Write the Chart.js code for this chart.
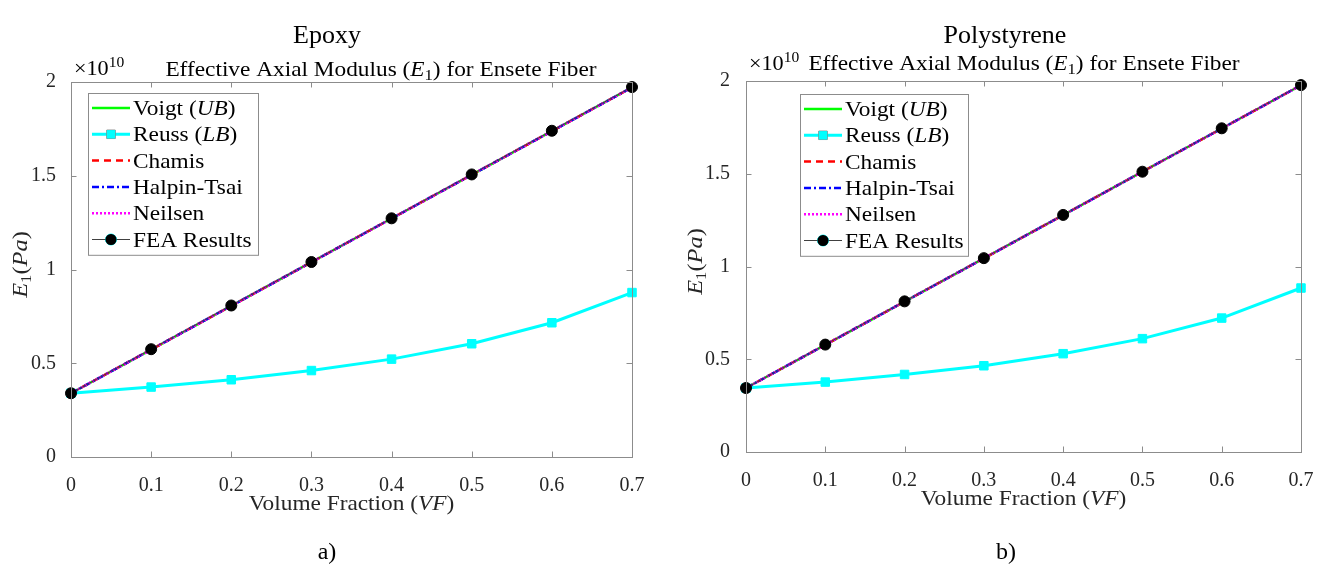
<!DOCTYPE html>
<html>
<head>
<meta charset="utf-8">
<script src="https://cdn.jsdelivr.net/npm/chart.js@4.4.1/dist/chart.umd.min.js"></script>
<style>
    body { margin: 0; background: #fff; width: 1329px; height: 574px; overflow: hidden; position: relative; }
    .panel { position: absolute; top: 0; }
    .cap { position: absolute; font-family: "Liberation Serif", serif; color: #000; text-align: center; width: 300px; line-height: 30px; }
</style>
</head>
<body>
<div class="panel" style="left:0px"><canvas id="epoxy_chart" width="664" height="574"></canvas></div>
<div class="panel" style="left:665px"><canvas id="poly_chart" width="664" height="574"></canvas></div>
<div class="cap" style="left:177px;top:20px;font-size:26px">Epoxy</div>
<div class="cap" style="left:855px;top:20px;font-size:26px">Polystyrene</div>
<div class="cap" style="left:177px;top:536px;font-size:24px">a)</div>
<div class="cap" style="left:856px;top:536px;font-size:24px">b)</div>
<script>
// volume fraction (x) and tick labels
let vf = [0, 0.1, 0.2, 0.3, 0.4, 0.5, 0.6, 0.7];
let xTicks = [0, 0.1, 0.2, 0.3, 0.4, 0.5, 0.6, 0.7];
let yTicks = [0, 0.5e10, 1e10, 1.5e10, 2e10];
let seriesNames = ["Voigt (UB)", "Reuss (LB)", "Chamis", "Halpin-Tsai", "Neilsen", "FEA Results"];

// epoxy matrix (Pa)
let epoxyVoigt = [0.340e10, 0.573e10, 0.806e10, 1.039e10, 1.272e10, 1.505e10, 1.738e10, 1.971e10];
let epoxyReuss = [0.340e10, 0.373e10, 0.412e10, 0.461e10, 0.522e10, 0.604e10, 0.716e10, 0.877e10];
let epoxyChamis = [0.340e10, 0.573e10, 0.806e10, 1.039e10, 1.272e10, 1.505e10, 1.738e10, 1.971e10];
let epoxyHalpin = [0.340e10, 0.573e10, 0.806e10, 1.039e10, 1.272e10, 1.505e10, 1.738e10, 1.971e10];
let epoxyNeilsen = [0.340e10, 0.573e10, 0.806e10, 1.039e10, 1.272e10, 1.505e10, 1.738e10, 1.971e10];
let epoxyFea = [0.340e10, 0.575e10, 0.808e10, 1.040e10, 1.273e10, 1.507e10, 1.740e10, 1.973e10];

// polystyrene matrix (Pa)
let polyVoigt = [0.345e10, 0.578e10, 0.811e10, 1.044e10, 1.277e10, 1.511e10, 1.744e10, 1.977e10];
let polyReuss = [0.345e10, 0.377e10, 0.418e10, 0.465e10, 0.530e10, 0.611e10, 0.722e10, 0.884e10];
let polyChamis = [0.345e10, 0.578e10, 0.811e10, 1.044e10, 1.277e10, 1.511e10, 1.744e10, 1.977e10];
let polyHalpin = [0.345e10, 0.578e10, 0.811e10, 1.044e10, 1.277e10, 1.511e10, 1.744e10, 1.977e10];
let polyNeilsen = [0.345e10, 0.578e10, 0.811e10, 1.044e10, 1.277e10, 1.511e10, 1.744e10, 1.977e10];
let polyFea = [0.345e10, 0.579e10, 0.812e10, 1.045e10, 1.278e10, 1.511e10, 1.745e10, 1.978e10];

const SERIF = '"Liberation Serif", "Times New Roman", serif';
const STRETCH = 1.11; // computer modern is a bit wider than times
const AXIS_COLOR = "#8c8c8c";
const TEXT_COLOR = "#262626";

function pts(arr) {
    return vf.map((v, i) => ({ x: v, y: arr[i] }));
}

// draw a row of text pieces (roman / italic / subscript)
function drawRuns(ctx, runs, x, y, align) {
    let w = 0;
    for (let r of runs) {
        ctx.font = r.f;
        w += ctx.measureText(r.t).width;
    }
    let start = align === "center" ? x - w * STRETCH / 2 : x;
    ctx.save();
    ctx.translate(start, y);
    ctx.scale(STRETCH, 1);
    ctx.textBaseline = "alphabetic";
    ctx.textAlign = "left";
    let cx = 0;
    for (let r of runs) {
        ctx.font = r.f;
        ctx.fillText(r.t, cx, r.dy || 0);
        cx += ctx.measureText(r.t).width;
    }
    ctx.restore();
}

function rm(sz) { return sz + "px " + SERIF; }
function it(sz) { return "italic " + sz + "px " + SERIF; }

function labelRuns(label, sz) {
    let m = label.match(/^(.*\()(.+)(\))$/);
    if (!m) return [{ t: label, f: rm(sz) }];
    return [{ t: m[1], f: rm(sz) }, { t: m[2], f: it(sz) }, { t: m[3], f: rm(sz) }];
}

const matlabFrame = {
    id: "matlab",
    afterDraw(chart, args, opts) {
        let ctx = chart.ctx;
        let a = chart.chartArea;
        let xs = chart.scales.x, ys = chart.scales.y;
        ctx.save();

        // box + inward ticks
        ctx.strokeStyle = AXIS_COLOR;
        ctx.lineWidth = 1;
        ctx.strokeRect(a.left + 0.5, a.top + 0.5, a.right - a.left, a.bottom - a.top);
        ctx.beginPath();
        let tl = 5.5;
        for (let t of xTicks) {
            let px = Math.round(xs.getPixelForValue(t)) + 0.5;
            ctx.moveTo(px, a.bottom); ctx.lineTo(px, a.bottom - tl);
            ctx.moveTo(px, a.top); ctx.lineTo(px, a.top + tl);
        }
        for (let t of yTicks) {
            let py = Math.round(ys.getPixelForValue(t)) + 0.5;
            ctx.moveTo(a.left, py); ctx.lineTo(a.left + tl, py);
            ctx.moveTo(a.right, py); ctx.lineTo(a.right - tl, py);
        }
        ctx.stroke();

        ctx.fillStyle = "#000";
        // exponent
        drawRuns(ctx, [{ t: "\u00d710", f: rm(20) }, { t: "10", f: rm(14), dy: -8 }], a.left + 3, opts.expY, "left");
        // title
        drawRuns(ctx, [
            { t: "Effective Axial Modulus (", f: rm(21) },
            { t: "E", f: it(21) },
            { t: "1", f: rm(15), dy: 4 },
            { t: ") for Ensete Fiber", f: rm(21) }
        ], opts.titleX, opts.titleY, "center");

        // axis labels
        ctx.fillStyle = TEXT_COLOR;
        drawRuns(ctx, [
            { t: "Volume Fraction (", f: rm(21) },
            { t: "VF", f: it(21) },
            { t: ")", f: rm(21) }
        ], (a.left + a.right) / 2, a.bottom + 53, "center");
        ctx.save();
        ctx.translate(a.left - 44, (a.top + a.bottom) / 2 - 5);
        ctx.rotate(-Math.PI / 2);
        drawRuns(ctx, [
            { t: "E", f: it(22) },
            { t: "1", f: rm(15), dy: 4 },
            { t: "(", f: rm(22) },
            { t: "Pa", f: it(22) },
            { t: ")", f: rm(22) }
        ], 0, 0, "center");
        ctx.restore();

        // legend box
        let lx = a.left + opts.legendDx, ly = a.top + opts.legendDy;
        let lw = opts.legendW, rowH = 26.3;
        let dsets = chart.data.datasets;
        ctx.fillStyle = "#fff";
        ctx.fillRect(lx, ly, lw, rowH * dsets.length + 4);
        ctx.strokeStyle = AXIS_COLOR;
        ctx.strokeRect(lx + 0.5, ly + 0.5, lw, rowH * dsets.length + 4);
        for (let i = 0; i < dsets.length; i++) {
            let d = dsets[i];
            let cy = ly + 15 + i * rowH;
            ctx.save();
            ctx.strokeStyle = d.borderColor;
            ctx.lineWidth = d.borderWidth;
            ctx.setLineDash(d.borderDash || []);
            ctx.beginPath();
            ctx.moveTo(lx + 4, cy); ctx.lineTo(lx + 42, cy);
            ctx.stroke();
            ctx.restore();
            if (d.pointRadius > 0) {
                Chart.helpers.drawPoint(ctx, {
                    pointStyle: d.pointStyle, radius: d.pointRadius, rotation: 0, borderWidth: 1
                }, lx + 23, cy);
                ctx.fillStyle = d.pointBackgroundColor;
                ctx.strokeStyle = d.pointBorderColor;
                ctx.beginPath();
                if (d.pointStyle === "rect") {
                    let s = d.pointRadius * Math.SQRT2;
                    ctx.rect(lx + 23 - s / 2, cy - s / 2, s, s);
                } else {
                    ctx.arc(lx + 23, cy, d.pointRadius, 0, Math.PI * 2);
                }
                ctx.fill();
            }
            ctx.fillStyle = "#000";
            drawRuns(ctx, labelRuns(d.label, 21), lx + 45, cy + 7, "left");
        }
        ctx.restore();
    }
};

function makeChart(id, data, frame) {
    let styles = [
        { borderColor: "#00ff00", borderWidth: 2.5, pointRadius: 0, order: 5 },
        { borderColor: "#00ffff", borderWidth: 3, pointRadius: 6, pointStyle: "rect", order: 4 },
        { borderColor: "#ff0000", borderWidth: 2.5, pointRadius: 0, borderDash: [7, 5], order: 3 },
        { borderColor: "#0000ff", borderWidth: 2.5, pointRadius: 0, borderDash: [7, 3, 2, 3], order: 2 },
        { borderColor: "#ff00ff", borderWidth: 2.5, pointRadius: 0, borderDash: [2, 2], order: 1 },
        { borderColor: "#404040", borderWidth: 1, pointRadius: 5.5, pointStyle: "circle", order: 0 }
    ];
    let datasets = data.map((arr, i) => Object.assign({
        label: seriesNames[i],
        data: pts(arr),
        pointBackgroundColor: i === 5 ? "#000" : styles[i].borderColor,
        pointBorderColor: i === 5 ? "#000" : styles[i].borderColor,
        pointBorderWidth: 1,
        fill: false,
        tension: 0,
        clip: false
    }, styles[i]));

    return new Chart(document.getElementById(id), {
        type: "line",
        data: { datasets: datasets },
        plugins: [matlabFrame],
        options: {
            responsive: false,
            animation: false,
            layout: { padding: { left: 0, right: frame.padRight, top: frame.top, bottom: 0 } },
            plugins: {
                legend: { display: false },
                tooltip: { enabled: false },
                matlab: frame
            },
            scales: {
                x: {
                    type: "linear",
                    min: 0, max: 0.7,
                    grid: { display: false },
                    border: { display: false },
                    afterBuildTicks: s => { s.ticks = xTicks.map(v => ({ value: v })); },
                    afterFit: s => { s.height = frame.xHeight; },
                    ticks: {
                        padding: 9,
                        color: TEXT_COLOR,
                        font: { family: SERIF, size: 20 },
                        callback: v => String(+(+v).toFixed(1))
                    }
                },
                y: {
                    min: 0, max: 2e10,
                    grid: { display: false },
                    border: { display: false },
                    afterBuildTicks: s => { s.ticks = yTicks.map(v => ({ value: v })); },
                    afterFit: s => { s.width = frame.yWidth; },
                    ticks: {
                        padding: frame.yPad,
                        color: TEXT_COLOR,
                        font: { family: SERIF, size: 20 },
                        callback: v => String(+(v / 1e10).toFixed(1))
                    }
                }
            }
        }
    });
}

let epoxyChart = makeChart("epoxy_chart",
    [epoxyVoigt, epoxyReuss, epoxyChamis, epoxyHalpin, epoxyNeilsen, epoxyFea],
    { top: 82, padRight: 32, yWidth: 71, yPad: 7, xHeight: 117,
      titleX: 381, titleY: 76, expY: 75, legendDx: 17, legendDy: 11, legendW: 170 });

let polyChart = makeChart("poly_chart",
    [polyVoigt, polyReuss, polyChamis, polyHalpin, polyNeilsen, polyFea],
    { top: 81, padRight: 28, yWidth: 81, yPad: 8, xHeight: 122,
      titleX: 359, titleY: 70, expY: 70, legendDx: 54, legendDy: 13, legendW: 168 });
</script>
</body>
</html>
